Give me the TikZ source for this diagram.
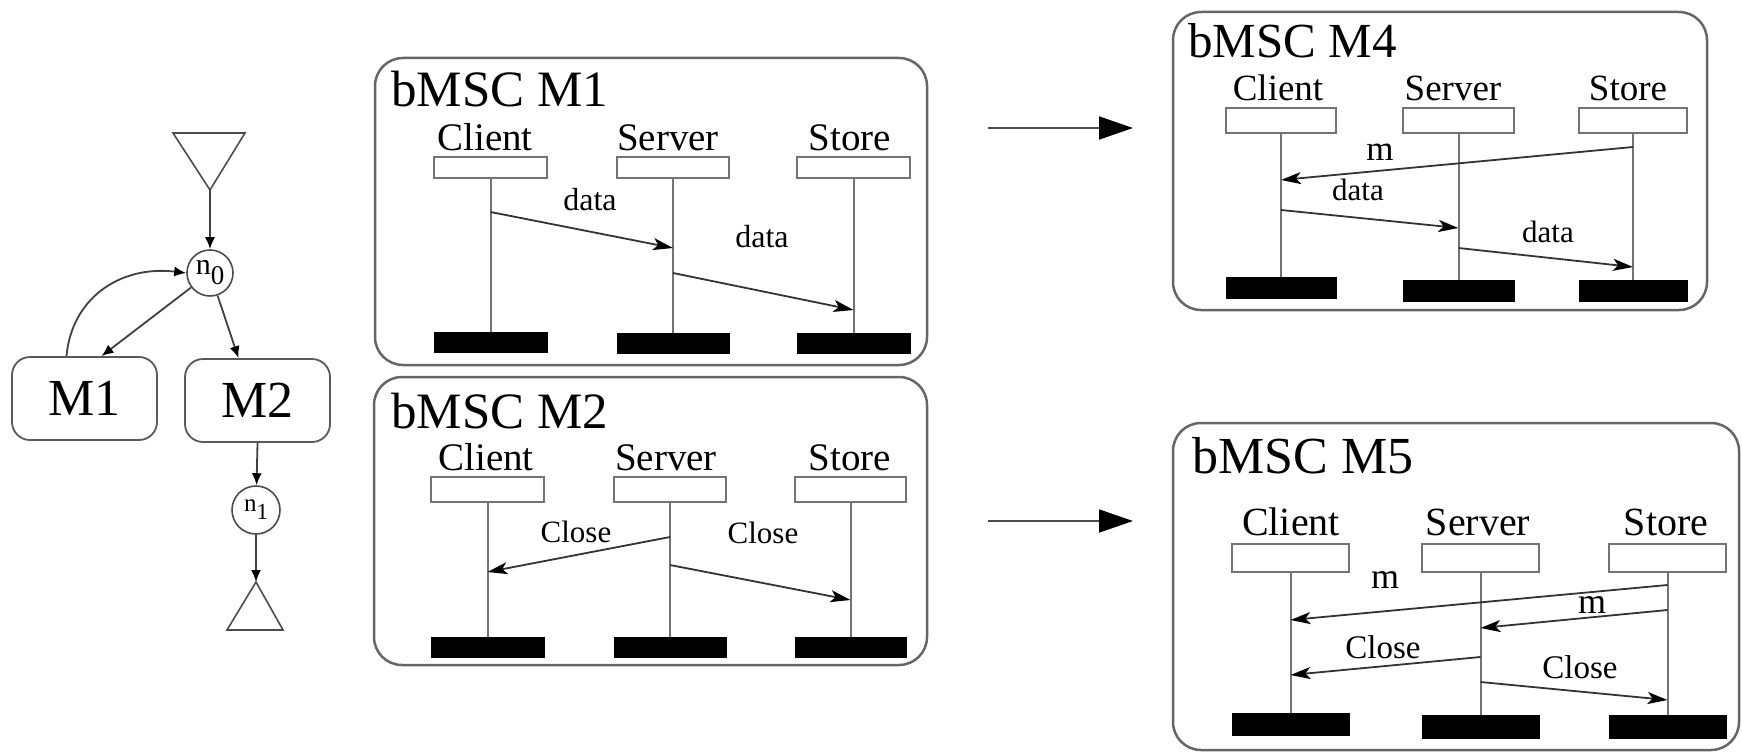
\documentclass[tikz,border=0pt]{standalone}
\usepackage{fontspec}
\setmainfont{Liberation Serif}
\usetikzlibrary{arrows.meta,shapes.geometric,calc}
\newcommand\myfs[1]{\fontsize{#1}{#1}\selectfont}
\begin{document}
\begin{tikzpicture}[x=1pt,y=-1pt,
  frame/.style={draw=black!60, line width=2.5pt, rounded corners=28pt, inner sep=0pt},
  head/.style={draw=black!55, line width=2pt, fill=white, inner sep=0pt},
  bar/.style={fill=black, draw=black, line width=0.5pt, inner sep=0pt},
  life/.style={draw=black!55, line width=2pt},
  msg/.style={draw=black!80, line width=1.8pt, -{Stealth[length=20pt,width=12pt,inset=5pt,black]}},
  ttl/.style={anchor=base west, inner sep=0pt},
  lbl/.style={anchor=base, inner sep=0pt},
  gbox/.style={draw=black!65, line width=1.8pt, rounded corners=18pt, minimum width=145pt, minimum height=83pt, inner sep=0pt, font=\myfs{52}},
  gcirc/.style={circle, draw=black!70, line width=1.6pt, inner sep=0pt},
  gline/.style={draw=black!70, line width=1.6pt},
  garr/.style={draw=black!75, line width=1.8pt, -{Latex[length=12pt,width=10pt,black]}},
  big/.style={draw=black!70, line width=1.8pt, -{Triangle[length=34pt,width=23pt,black]}}
]
\useasboundingbox (0,0) rectangle (1742,752);

% ---------------- left graph ----------------
\draw[gline] (173,133) -- (245,133) -- (210,190) -- cycle;
\coordinate (Tin) at (210,190);
\node[gcirc, minimum size=46pt] (n0) at (210,273) {\myfs{30}n\raisebox{-10pt}{\myfs{27}0}};
\node[gbox] (M1) at (84.5,398.5) {M1};
\node[gbox] (M2) at (257.5,400.5) {M2};
\node[gcirc, minimum size=48pt] (n1) at (256,510) {\myfs{25}n\raisebox{-8pt}{\myfs{23}1}};
\draw[gline] (256,582) -- (227,630) -- (283,630) -- cycle;
\coordinate (Bin) at (256,582);
\draw[garr] (Tin) -- (n0);
\draw[garr] (n0) -- ([xshift=17pt]M1.north);
\draw[garr] (n0) -- ([xshift=-19pt]M2.north);
\draw[garr] ([xshift=-18pt]M1.north) .. controls +(5,-57) and +(-67,-8) .. (n0.west);
\draw[garr] (M2.south) -- (n1);
\draw[garr] (n1) -- (Bin);

% ---------------- bMSC M1 ----------------
\node[frame, minimum width=552pt, minimum height=307pt] (F1) at (651,211.5) {};
\node[ttl, font=\myfs{51}] (T1) at (391,106) {bMSC M1};
\node[lbl, font=\myfs{39}] (C1l) at (485,150) {Client};
\node[lbl, font=\myfs{39}] (S1l) at (668,150) {Server};
\node[lbl, font=\myfs{39}] (R1l) at (850,150) {Store};
\node[head, minimum width=113pt, minimum height=21pt] (C1) at (490.5,167.5) {};
\node[head, minimum width=112pt, minimum height=21pt] (S1) at (673,167.5) {};
\node[head, minimum width=113pt, minimum height=21pt] (R1) at (853.5,167.5) {};
\node[bar, minimum width=113pt, minimum height=20pt] (C1b) at (490.5,342) {};
\node[bar, minimum width=112pt, minimum height=20pt] (S1b) at (673,343) {};
\node[bar, minimum width=113pt, minimum height=20pt] (R1b) at (853.5,343) {};
\draw[life] (C1) -- (C1b);
\draw[life] (S1) -- (S1b);
\draw[life] (R1) -- (R1b);
\coordinate (d1a) at (490.5,212); \coordinate (d1b) at (673,248);
\coordinate (d2a) at (673,273);   \coordinate (d2b) at (853.5,310);
\draw[msg] (d1a) -- (d1b);
\draw[msg] (d2a) -- (d2b);
\node[lbl, font=\myfs{32}] (L11) at (590,210) {data};
\node[lbl, font=\myfs{32}] (L12) at (762,247) {data};

% ---------------- bMSC M2 ----------------
\node[frame, minimum width=553pt, minimum height=288pt] (F2) at (650.5,521) {};
\node[ttl, font=\myfs{51}] (T2) at (391,428) {bMSC M2};
\node[lbl, font=\myfs{39}] (C2l) at (486,470) {Client};
\node[lbl, font=\myfs{39}] (S2l) at (666,470) {Server};
\node[lbl, font=\myfs{39}] (R2l) at (850,470) {Store};
\node[head, minimum width=113pt, minimum height=25pt] (C2) at (487.5,489.5) {};
\node[head, minimum width=112pt, minimum height=25pt] (S2) at (670,489.5) {};
\node[head, minimum width=111pt, minimum height=25pt] (R2) at (850.5,489.5) {};
\node[bar, minimum width=113pt, minimum height=20pt] (C2b) at (487.5,647) {};
\node[bar, minimum width=112pt, minimum height=20pt] (S2b) at (670,647) {};
\node[bar, minimum width=111pt, minimum height=20pt] (R2b) at (850.5,647) {};
\draw[life] (C2) -- (C2b);
\draw[life] (S2) -- (S2b);
\draw[life] (R2) -- (R2b);
\coordinate (c1a) at (670,537);   \coordinate (c1b) at (487.5,572);
\coordinate (c2a) at (670,565);   \coordinate (c2b) at (850.5,600);
\draw[msg] (c1a) -- (c1b);
\draw[msg] (c2a) -- (c2b);
\node[lbl, font=\myfs{31}] (L21) at (576,542) {Close};
\node[lbl, font=\myfs{31}] (L22) at (763,543) {Close};

% ---------------- transition arrows ----------------
\coordinate (A1s) at (988,128); \coordinate (A1e) at (1133,128);
\coordinate (A2s) at (988,521); \coordinate (A2e) at (1133,521);
\draw[big] (A1s) -- (A1e);
\draw[big] (A2s) -- (A2e);

% ---------------- bMSC M4 ----------------
\node[frame, minimum width=534pt, minimum height=298pt] (F4) at (1440,161) {};
\node[ttl, font=\myfs{49}] (T4) at (1188,57) {bMSC M4};
\node[lbl, font=\myfs{37}] (C4l) at (1278,100) {Client};
\node[lbl, font=\myfs{37}] (S4l) at (1453,100) {Server};
\node[lbl, font=\myfs{37}] (R4l) at (1628,100) {Store};
\node[head, minimum width=110pt, minimum height=25pt] (C4) at (1281,120.5) {};
\node[head, minimum width=111pt, minimum height=25pt] (S4) at (1458.5,120.5) {};
\node[head, minimum width=108pt, minimum height=25pt] (R4) at (1633,120.5) {};
\node[bar, minimum width=110pt, minimum height=21pt] (C4b) at (1281,287.5) {};
\node[bar, minimum width=111pt, minimum height=21pt] (S4b) at (1458.5,290.5) {};
\node[bar, minimum width=108pt, minimum height=21pt] (R4b) at (1633,290.5) {};
\draw[life] (C4) -- (C4b);
\draw[life] (S4) -- (S4b);
\draw[life] (R4) -- (R4b);
\coordinate (e1a) at (1633,147);   \coordinate (e1b) at (1281,180);
\coordinate (e2a) at (1281,210);   \coordinate (e2b) at (1458.5,228);
\coordinate (e3a) at (1458.5,248); \coordinate (e3b) at (1633,267);
\draw[msg] (e1a) -- (e1b);
\draw[msg] (e2a) -- (e2b);
\draw[msg] (e3a) -- (e3b);
\node[lbl, font=\myfs{35}] (L41) at (1380,160) {m};
\node[lbl, font=\myfs{31}] (L42) at (1358,200) {data};
\node[lbl, font=\myfs{31}] (L43) at (1548,242) {data};

% ---------------- bMSC M5 ----------------
\node[frame, minimum width=566pt, minimum height=327pt] (F5) at (1456,586.5) {};
\node[ttl, font=\myfs{52}] (T5) at (1192,473) {bMSC M5};
\node[lbl, font=\myfs{40}] (C5l) at (1291,535) {Client};
\node[lbl, font=\myfs{40}] (S5l) at (1478,535) {Server};
\node[lbl, font=\myfs{40}] (R5l) at (1666,535) {Store};
\node[head, minimum width=117pt, minimum height=28pt] (C5) at (1290.5,558) {};
\node[head, minimum width=117pt, minimum height=28pt] (S5) at (1480.5,558) {};
\node[head, minimum width=117pt, minimum height=28pt] (R5) at (1667.5,558) {};
\node[bar, minimum width=117pt, minimum height=22pt] (C5b) at (1290.5,724) {};
\node[bar, minimum width=117pt, minimum height=23pt] (S5b) at (1480.5,726.5) {};
\node[bar, minimum width=117pt, minimum height=23pt] (R5b) at (1667.5,726.5) {};
\draw[life] (C5) -- (C5b);
\draw[life] (S5) -- (S5b);
\draw[life] (R5) -- (R5b);
\coordinate (f1a) at (1667.5,585); \coordinate (f1b) at (1290.5,620);
\coordinate (f2a) at (1667.5,610); \coordinate (f2b) at (1480.5,628);
\coordinate (f3a) at (1480.5,657); \coordinate (f3b) at (1290.5,675);
\coordinate (f4a) at (1480.5,682); \coordinate (f4b) at (1667.5,700);
\draw[msg] (f1a) -- (f1b);
\draw[msg] (f2a) -- (f2b);
\draw[msg] (f3a) -- (f3b);
\draw[msg] (f4a) -- (f4b);
\node[lbl, font=\myfs{36}] (L51) at (1385,588) {m};
\node[lbl, font=\myfs{36}] (L52) at (1592,613) {m};
\node[lbl, font=\myfs{33}] (L53) at (1383,658) {Close};
\node[lbl, font=\myfs{33}] (L54) at (1580,678) {Close};
\end{tikzpicture}
\end{document}
